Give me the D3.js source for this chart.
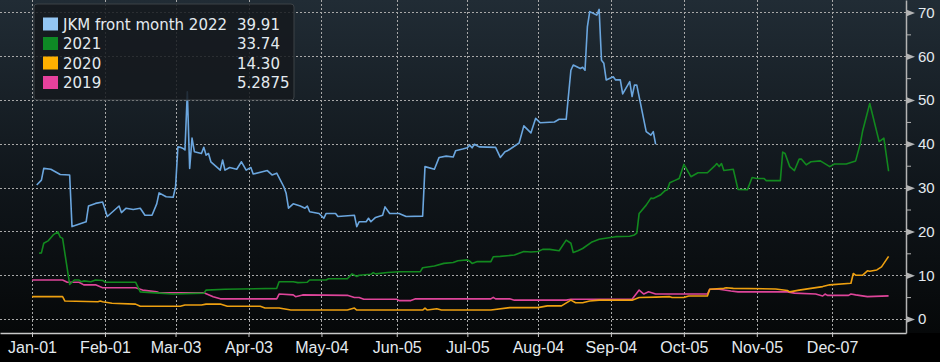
<!DOCTYPE html>
<html>
<head>
<meta charset="utf-8">
<script src="https://d3js.org/d3.v7.min.js"></script>
<style>
  html, body { margin: 0; padding: 0; background: #000; }
  svg { display: block; font-family: 'DejaVu Sans', sans-serif; }
  .txt { fill: #e4eaef; font-size: 15px; }
  .xlab { fill: #e4eaef; font-size: 16px; }
  .grid line { stroke: #a8a8a8; stroke-width: 1; stroke-dasharray: 2,2; }
  .series { fill: none; stroke-width: 1.6; stroke-linejoin: round; }
</style>
</head>
<body>
<svg id="chart"></svg>
<script>
// day-of-year (0 = Jan 1 2022) / value pairs
const jkm2022 = [
  [2,30.6],[4,31.7],[5,34.4],[8,34.2],[12,33.0],[16,32.9],[17,21.1],[23,22.2],[24,25.8],[27,26.4],
  [30,26.7],[32,23.4],[37,25.8],[38,24.3],[40,25.3],[43,25.0],[46,25.3],[48,23.7],[51,23.7],[53,26.3],
  [54,28.8],[57,27.9],[60,27.8],[61,30.2],[62,39.3],[63,39.2],[64,39.0],[65,38.6],[66,51.9],[67,34.4],
  [68,41.3],[69,38.2],[72,37.8],[73,39.2],[74,37.4],[75,37.8],[76,35.9],[80,34.0],[81,36.3],[82,34.0],
  [84,34.6],[87,34.2],[89,35.9],[91,34.0],[93,34.6],[94,33.1],[100,33.9],[102,32.9],[104,33.3],[107,30.2],
  [108,28.7],[109,25.3],[111,26.3],[114,25.8],[116,25.3],[117,25.8],[118,24.5],[122,24.1],[124,23.0],[125,24.1],
  [129,24.1],[130,23.4],[137,23.7],[138,21.1],[139,22.2],[142,22.2],[143,23.0],[144,22.2],[146,23.2],[149,23.7],
  [150,25.6],[152,24.1],[156,24.1],[159,23.4],[166,23.5],[167,34.8],[171,34.2],[173,36.9],[176,37.2],[179,37.0],
  [180,38.4],[183,38.8],[185,39.1],[186,39.7],[187,39.1],[188,39.9],[190,39.3],[197,39.2],[199,36.9],[201,38.2],
  [202,38.4],[207,40.2],[209,44.1],[212,42.5],[214,45.8],[216,44.8],[222,45.0],[224,45.6],[227,45.6],[229,56.8],
  [230,58.0],[233,57.2],[234,57.5],[235,56.8],[236,66.7],[237,70.2],[240,69.4],[241,70.7],[242,59.1],[243,58.4],
  [244,54.6],[247,55.3],[248,54.6],[250,54.6],[251,51.4],[254,54.2],[255,50.8],[256,53.4],[257,53.4],[261,42.8],
  [263,42.0],[264,42.8],[265,39.91]
];
const y2021 = [
  [3,15.0],[4,15.1],[5,17.3],[7,17.9],[9,19.2],[11,19.9],[12,18.7],[13,18.4],[16,7.9],[18,8.9],
  [20,8.9],[21,8.5],[22,8.7],[25,8.5],[27,8.9],[30,8.8],[31,8.4],[44,8.4],[46,6.2],[54,5.9],
  [60,5.7],[73,5.9],[74,6.6],[82,6.8],[104,7.0],[105,8.5],[111,8.5],[113,8.3],[117,8.4],[118,8.9],
  [125,8.9],[126,9.2],[134,9.2],[136,10.3],[138,9.7],[139,10.0],[144,10.2],[145,10.6],[146,10.3],[151,10.6],
  [156,10.8],[165,10.8],[166,11.7],[171,12.1],[175,12.7],[179,12.9],[181,13.3],[185,13.5],[186,13.2],[187,12.7],
  [189,13.1],[195,13.1],[196,14.2],[199,14.3],[205,14.6],[209,15.4],[212,15.3],[215,15.4],[217,15.9],[220,15.9],
  [224,15.6],[227,18.0],[229,17.3],[230,15.2],[232,15.6],[234,16.1],[238,17.6],[241,18.2],[243,18.4],[248,18.8],
  [254,18.9],[256,19.2],[257,19.6],[258,24.1],[261,26.0],[263,27.6],[264,27.5],[267,28.3],[269,29.3],[270,29.5],
  [271,31.1],[273,31.6],[275,32.1],[277,35.3],[278,34.4],[280,32.5],[283,33.4],[287,33.4],[290,34.9],[291,35.5],
  [292,34.8],[293,35.5],[294,33.9],[298,34.2],[300,29.6],[304,29.5],[306,32.3],[308,32.1],[311,32.1],[312,31.6],
  [318,31.6],[319,38.1],[320,37.8],[322,34.8],[324,33.9],[326,36.5],[327,36.5],[329,35.2],[331,35.9],[335,36.1],
  [339,34.8],[341,35.4],[346,35.4],[350,36.1],[352,40.1],[353,43.0],[356,49.2],[360,40.5],[362,41.3],[364,33.74]
];
const y2020 = [
  [0,5.1],[13,5.1],[14,4.1],[28,3.95],[29,4.1],[30,3.95],[34,3.6],[44,3.4],[46,2.9],[63,2.9],
  [65,3.2],[72,3.2],[74,3.4],[80,3.4],[83,2.9],[97,2.9],[99,2.5],[105,2.5],[110,2.05],[134,2.05],
  [137,2.5],[138,2.05],[166,2.05],[167,2.5],[168,2.05],[172,2.35],[174,2.05],[195,2.05],[203,2.6],[215,2.6],
  [219,3.0],[225,3.0],[229,4.3],[231,3.7],[234,3.7],[237,4.1],[241,4.3],[255,4.3],[258,4.9],[265,5.0],
  [271,5.1],[272,4.9],[277,4.9],[279,5.25],[287,5.25],[288,6.8],[294,7.0],[295,7.15],[298,7.0],[316,6.85],
  [321,6.5],[322,6.2],[326,6.6],[331,7.0],[336,7.4],[339,7.8],[348,8.15],[349,10.4],[350,10.0],[353,10.0],
  [355,11.0],[356,10.9],[359,11.2],[361,11.9],[364,14.3]
];
const y2019 = [
  [0,8.9],[13,8.9],[15,8.4],[20,8.4],[22,7.8],[27,7.8],[30,7.15],[44,7.15],[47,6.6],[53,6.2],
  [54,6.0],[73,6.0],[77,5.1],[80,4.6],[104,4.6],[105,5.7],[111,5.5],[112,5.1],[115,5.5],[134,5.4],
  [137,4.9],[139,4.9],[141,4.5],[155,4.5],[156,4.2],[161,4.2],[163,4.6],[195,4.6],[196,4.95],[197,4.6],
  [203,4.6],[205,4.3],[227,4.3],[229,4.5],[255,4.5],[258,6.6],[260,5.7],[262,6.2],[264,5.9],[265,5.7],
  [287,5.7],[288,6.8],[292,6.8],[297,6.4],[300,6.2],[321,6.2],[324,5.9],[333,5.7],[336,5.25],[337,5.7],
  [338,5.4],[347,5.4],[348,5.7],[350,5.5],[355,5.1],[364,5.2875]
];

const seriesNames = ['JKM front month 2022', '2021', '2020', '2019'];
const lastValues = ['39.91', '33.74', '14.30', '5.2875'];
const lineColors = ['#6ba6de', '#12891f', '#eea010', '#de459a'];
const swatchColors = ['#93c6f3', '#0e8a25', '#ffb000', '#e6419c'];
const xTickDates = ['2022-01-01', '2022-02-01', '2022-03-03', '2022-04-03', '2022-05-04', '2022-06-05',
  '2022-07-05', '2022-08-04', '2022-09-04', '2022-10-05', '2022-11-05', '2022-12-07'];
const yTicks = [0, 10, 20, 30, 40, 50, 60, 70];
const yMinorTicks = [5, 15, 25, 35, 45, 55, 65];

const width = 940;
const height = 362;
const plotRight = 906;
const plotBottom = 333;

const jan1 = Date.UTC(2022, 0, 1);
const dayToDate = (d) => new Date(jan1 + d * 864e5);
const parseDay = d3.utcParse('%Y-%m-%d');

const svg = d3.select('#chart').attr('width', width).attr('height', height);

const defs = svg.append('defs');
const grad = defs.append('linearGradient').attr('id', 'bg').attr('x1', 0).attr('y1', 0).attr('x2', 0).attr('y2', 1);
grad.append('stop').attr('offset', '0%').attr('stop-color', '#212c35');
grad.append('stop').attr('offset', '55%').attr('stop-color', '#10161b');
grad.append('stop').attr('offset', '100%').attr('stop-color', '#060809');

svg.append('rect').attr('width', width).attr('height', height).attr('fill', '#000');
svg.append('rect').attr('width', width).attr('height', plotBottom).attr('fill', 'url(#bg)');

const x = d3.scaleUtc().domain([dayToDate(-13.6), dayToDate(371.4)]).range([0, plotRight]);
const y = d3.scaleLinear().domain([-3.2, 72.85]).range([plotBottom, 0]);

// gridlines
const grid = svg.append('g').attr('class', 'grid');
grid.selectAll('.h').data(yTicks).join('line').attr('class', 'h')
  .attr('x1', 0).attr('x2', plotRight)
  .attr('y1', (d) => Math.round(y(d)) + 0.5).attr('y2', (d) => Math.round(y(d)) + 0.5);
grid.selectAll('.v').data(xTickDates).join('line').attr('class', 'v')
  .attr('x1', (d) => Math.round(x(parseDay(d))) + 0.5).attr('x2', (d) => Math.round(x(parseDay(d))) + 0.5)
  .attr('y1', 0).attr('y2', plotBottom);

// series, oldest first so 2022 sits on top
const line = d3.line().x((d) => x(dayToDate(d[0]))).y((d) => y(d[1]));
const allSeries = [jkm2022, y2021, y2020, y2019];
[3, 2, 1, 0].forEach((i) => {
  svg.append('path').attr('class', 'series').datum(allSeries[i])
    .attr('stroke', lineColors[i]).attr('d', line);
});

// x axis
const xAxis = d3.axisBottom(x)
  .tickValues(xTickDates.map(parseDay))
  .tickFormat(d3.utcFormat('%b-%d'))
  .tickSizeInner(4).tickSizeOuter(0).tickPadding(5);
const xAxisGroup = svg.append('g').attr('transform', `translate(0, ${plotBottom})`).call(xAxis);
xAxisGroup.select('.domain').attr('stroke', '#c8c8c8').attr('stroke-width', 1.5);
xAxisGroup.selectAll('.tick line').attr('stroke', '#c8c8c8');
xAxisGroup.selectAll('.tick text').attr('class', 'xlab').attr('fill', null);

// y axis on the right
const yAxis = d3.axisRight(y).tickValues(yTicks).tickSize(0).tickPadding(12);
const yAxisGroup = svg.append('g').attr('transform', `translate(${plotRight}, 0)`).call(yAxis);
yAxisGroup.select('.domain').attr('stroke', '#b4b4b4').attr('stroke-width', 1.5);
yAxisGroup.selectAll('.tick text').attr('class', 'txt').attr('fill', null);
yAxisGroup.selectAll('.tick').append('path').attr('d', 'M0,-3.5L9,0L0,3.5Z').attr('fill', '#b4b4b4');

const yMinor = d3.axisRight(y).tickValues(yMinorTicks).tickSize(5).tickFormat('');
const yMinorGroup = svg.append('g').attr('transform', `translate(${plotRight}, 0)`).call(yMinor);
yMinorGroup.select('.domain').remove();
yMinorGroup.selectAll('.tick line').attr('stroke', '#b4b4b4');

// legend (slightly see-through, the March spike shows faintly under it)
const legend = svg.append('g').attr('transform', 'translate(34, 4)');
legend.append('rect').attr('width', 260).attr('height', 96).attr('rx', 3)
  .attr('fill', '#15191d').attr('fill-opacity', 0.85).attr('stroke', '#3c4247');
const rowBaseline = [25.5, 45, 64.5, 84];
const rows = legend.selectAll('.row').data(seriesNames).join('g').attr('class', 'row');
rows.append('rect').attr('x', 9).attr('y', (d, i) => rowBaseline[i] - 12)
  .attr('width', 15).attr('height', 13).attr('fill', (d, i) => swatchColors[i]);
rows.append('text').attr('class', 'txt').attr('x', 29).attr('y', (d, i) => rowBaseline[i]).text((d) => d);
rows.append('text').attr('class', 'txt').attr('x', 203).attr('y', (d, i) => rowBaseline[i]).text((d, i) => lastValues[i]);
</script>
</body>
</html>
